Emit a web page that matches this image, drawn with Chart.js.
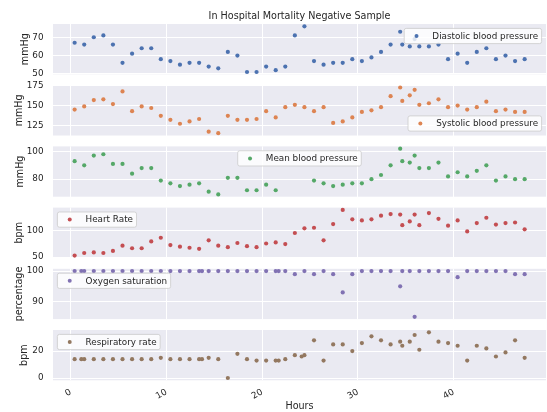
<!DOCTYPE html>
<html>
<head>
<meta charset="utf-8">
<script src="https://cdn.jsdelivr.net/npm/chart.js@4.4.1/dist/chart.umd.min.js"></script>
<style>
  html, body { margin: 0; padding: 0; background: #ffffff; }
  #wrap { position: relative; width: 547px; height: 412px; overflow: hidden; }
  #wrap canvas { position: absolute; left: 0; }
</style>
</head>
<body>
<div id="wrap"></div>
<script>
// ---- vital-sign series (hours since admission) ----
const bpHours = [0.42, 1.42, 2.42, 3.42, 4.42, 5.42, 6.42, 7.42, 8.42, 9.42,
  10.42, 11.42, 12.42, 13.42, 14.42, 15.42, 16.42, 17.42, 18.42, 19.42,
  20.42, 21.42, 22.42, 23.42, 24.42, 25.42, 26.42, 27.42, 28.42, 29.42,
  30.42, 31.42, 32.42, 33.42, 34.42, 34.64, 35.42, 35.93, 36.42, 37.42,
  38.42, 39.42, 40.42, 41.42, 42.42, 43.42, 44.42, 45.42, 46.42, 47.42];

const mapHours = [0.42, 1.42, 2.42, 3.42, 4.42, 5.42, 6.42, 7.42, 8.42, 9.42,
  10.42, 11.42, 12.42, 13.42, 14.42, 15.42, 16.42, 17.42, 18.42, 19.42,
  20.42, 21.42, 25.42, 26.42, 27.42, 28.42, 29.42,
  30.42, 31.42, 32.42, 33.42, 34.42, 34.64, 35.42, 35.93, 36.42, 37.42,
  38.42, 39.42, 40.42, 41.42, 42.42, 43.42, 44.42, 45.42, 46.42, 47.42];

const spo2Hours = [0.42, 1.12, 1.42, 2.42, 3.42, 4.42, 5.42, 6.42, 7.42, 8.42, 9.42,
  10.42, 11.42, 12.42, 13.42, 13.72, 14.42, 15.42, 16.42, 17.42, 18.42, 19.42,
  20.42, 21.42, 21.73, 22.42, 23.42, 24.42, 25.42, 26.42, 27.42, 28.42, 29.42,
  30.42, 31.42, 32.42, 33.42, 34.42, 34.64, 35.42, 35.93, 36.42, 37.42,
  38.42, 39.42, 40.42, 41.42, 42.42, 43.42, 44.42, 45.42, 46.42, 47.42];

const respHours = [0.42, 1.12, 1.42, 2.42, 3.42, 4.42, 5.42, 6.42, 7.42, 8.42, 9.42,
  10.42, 11.42, 12.42, 13.42, 13.72, 14.42, 15.42, 16.42, 17.42, 18.42, 19.42,
  20.42, 21.42, 21.73, 22.42, 23.42, 24.13, 24.42, 25.42, 26.42, 27.42, 28.42, 29.42,
  30.42, 31.42, 32.42, 33.42, 34.42, 34.64, 35.42, 35.93, 36.42, 37.42,
  38.42, 39.42, 40.42, 41.42, 42.42, 43.42, 44.42, 45.42, 46.42, 47.42];

const diastolic = [67, 66, 70, 71, 66, 56, 61, 64, 64, 58,
  57, 55, 56, 56, 54, 53, 62, 60, 51, 51,
  54, 52, 54, 71, 76, 57, 55, 56, 56, 58,
  57, 59, 62, 66, 73, 66, 65, 69, 65, 65,
  66, 58, 61, 56, 62, 64, 58, 60, 57, 58];

const systolic = [145, 149, 157, 158, 152, 168, 143, 149, 147, 137,
  132, 127, 130, 133, 117, 115, 137, 132, 132, 133,
  143, 135, 148, 151, 148, 143, 148, 128, 130, 135,
  142, 144, 148, 162, 173, 156, 163, 170, 151, 153,
  158, 148, 150, 145, 148, 155, 143, 145, 142, 142];

const meanBP = [93, 90, 97, 98, 91, 91, 84, 88, 88, 79,
  77, 75, 76, 77, 71, 69, 81, 81, 72, 72,
  76, 72, 79, 77, 75, 76, 77,
  77, 80, 83, 90, 102, 93, 92, 97, 88, 88,
  92, 82, 85, 82, 86, 90, 79, 82, 80, 80];

const heartRate = [53, 58, 59, 58, 62, 72, 67, 67, 80, 87,
  73, 70, 68, 66, 82, 72, 69, 77, 71, 69,
  76, 78, 75, 96, 105, 106, 82, 113, 140, 122,
  120, 122, 129, 132, 131, 111, 118, 131, 111, 134,
  123, 110, 120, 99, 115, 125, 112, 115, 116, 103];

const spo2 = [100, 100, 100, 100, 100, 100, 100, 100, 100, 100, 100,
  100, 100, 100, 100, 100, 100, 100, 100, 100, 100, 100,
  100, 100, 100, 100, 99, 100, 99, 100, 99, 93, 99,
  100, 100, 100, 100, 95, 100, 100, 85, 100, 100,
  100, 100, 98, 100, 100, 100, 100, 100, 99, 99];

const respRate = [14, 14, 14, 14, 14, 14, 14, 14, 14, 14, 15,
  14, 14, 14, 14, 14, 15, 14, 0, 18, 14, 13,
  13, 13, 13, 14, 17, 16, 17, 28, 13, 25, 25, 20,
  26, 31, 28, 25, 27, 24, 27, 32, 21, 34,
  27, 26, 24, 13, 24, 22, 16, 19, 28, 15];

const seriesLabels = ['Diastolic blood pressure', 'Systolic blood pressure', 'Mean blood pressure',
  'Heart Rate', 'Oxygen saturation', 'Respiratory rate'];
const unitLabels = ['mmHg', 'mmHg', 'mmHg', 'bpm', 'percentage', 'bpm'];
const yTickSteps = [10, 25, 20, 50, 10, 20];
const xTickStep = 10;
const chartTitle = 'In Hospital Mortality Negative Sample';
const xTitle = 'Hours';

// ---- layout & style ----
const PAGE_W = 547, PAGE_H = 412;
const AREA_LEFT = 53, AREA_RIGHT = 546;
const PANEL_TOP0 = 24, PANEL_STEP = 61.2, PANEL_H = 50.3, MARGIN = 8;
const X_MIN = -1.84, X_MAX = 49.65;
const TEXT = '#262626';
const FONT = '"DejaVu Sans", "Liberation Sans", sans-serif';
const palette = ['#4C72B0', '#DD8452', '#55A868', '#C44E52', '#8172B3', '#937860'];

Chart.defaults.font.family = FONT;
Chart.defaults.color = TEXT;

const panels = [
  { x: bpHours,   y: diastolic, loc: 'upper right',  titlePad: 19.5 },
  { x: bpHours,   y: systolic,  loc: 'lower right',  titlePad: 14 },
  { x: mapHours,  y: meanBP,    loc: 'upper center', titlePad: 14.5 },
  { x: bpHours,   y: heartRate, loc: 'upper left',   titlePad: 14 },
  { x: spo2Hours, y: spo2,      loc: 'upper left',   titlePad: 13.5 },
  { x: respHours, y: respRate,  loc: 'upper left',   titlePad: 18.5 }
];

// axis range padded by 5% of the data span
function paddedRange(vals) {
  const lo = Math.min(...vals), hi = Math.max(...vals);
  const m = (hi - lo) * 0.05;
  return [lo - m, hi + m];
}

// grey axes face behind each panel
const panelBackground = {
  id: 'panelBackground',
  beforeDraw(chart) {
    const { ctx, chartArea: a } = chart;
    ctx.save();
    ctx.fillStyle = '#EAEAF2';
    ctx.fillRect(a.left, a.top, a.right - a.left, a.bottom - a.top);
    ctx.restore();
  }
};

// legend box drawn inside the plotting area
const insetLegend = {
  id: 'insetLegend',
  afterDatasetsDraw(chart, args, opts) {
    const { ctx, chartArea: a } = chart;
    const ds = chart.data.datasets[0];
    const fs = 8.8;
    ctx.save();
    ctx.font = fs + 'px ' + FONT;
    const tw = ctx.measureText(ds.label).width;
    const bp = 0.4 * fs, hl = 2 * fs, hp = 0.8 * fs, ax = 0.5 * fs;
    const w = bp + hl + hp + tw + bp, h = 15.2;
    let x, y;
    if (opts.loc.includes('right')) x = a.right - ax - w;
    else if (opts.loc.includes('left')) x = a.left + ax;
    else x = (a.left + a.right) / 2 - w / 2;
    y = opts.loc.startsWith('upper') ? a.top + ax : a.bottom - ax - h;
    const r = 2;
    ctx.beginPath();
    ctx.moveTo(x + r, y);
    ctx.lineTo(x + w - r, y);
    ctx.arcTo(x + w, y, x + w, y + r, r);
    ctx.lineTo(x + w, y + h - r);
    ctx.arcTo(x + w, y + h, x + w - r, y + h, r);
    ctx.lineTo(x + r, y + h);
    ctx.arcTo(x, y + h, x, y + h - r, r);
    ctx.lineTo(x, y + r);
    ctx.arcTo(x, y, x + r, y, r);
    ctx.closePath();
    ctx.fillStyle = 'rgba(255,255,255,0.8)';
    ctx.fill();
    ctx.strokeStyle = 'rgba(204,204,204,0.8)';
    ctx.lineWidth = 1;
    ctx.stroke();
    ctx.beginPath();
    ctx.arc(x + bp + hl / 2, y + h / 2, 2, 0, Math.PI * 2);
    ctx.fillStyle = ds.backgroundColor;
    ctx.fill();
    ctx.fillStyle = TEXT;
    ctx.textBaseline = 'middle';
    ctx.textAlign = 'left';
    ctx.fillText(ds.label, x + bp + hl + hp, y + h / 2 + 0.5);
    ctx.restore();
  }
};

const wrap = document.getElementById('wrap');

panels.forEach((p, i) => {
  const first = i === 0, last = i === panels.length - 1;
  const areaTop = PANEL_TOP0 + PANEL_STEP * i;
  const areaBottom = areaTop + PANEL_H;
  const cTop = first ? 0 : Math.floor(areaTop - MARGIN);
  const cBottom = last ? PAGE_H : Math.ceil(areaBottom + MARGIN);

  const canvas = document.createElement('canvas');
  canvas.width = PAGE_W;
  canvas.height = cBottom - cTop;
  canvas.style.width = PAGE_W + 'px';
  canvas.style.height = (cBottom - cTop) + 'px';
  canvas.style.top = cTop + 'px';
  wrap.appendChild(canvas);

  const xAxisH = last ? PAGE_H - areaBottom : 0;
  const [yMin, yMax] = paddedRange(p.y);

  new Chart(canvas, {
    type: 'scatter',
    data: {
      datasets: [{
        label: seriesLabels[i],
        data: p.x.map((h, j) => ({ x: h, y: p.y[j] })),
        backgroundColor: palette[i],
        pointBackgroundColor: palette[i],
        pointBorderWidth: 0,
        pointRadius: 2.1,
        pointHoverRadius: 2.1,
        showLine: false,
        clip: false
      }]
    },
    options: {
      responsive: false,
      animation: false,
      events: [],
      layout: {
        autoPadding: false,
        padding: {
          left: 0,
          right: PAGE_W - AREA_RIGHT,
          top: first ? 0 : areaTop - cTop,
          bottom: last ? 0 : cBottom - areaBottom
        }
      },
      plugins: {
        legend: { display: false },
        tooltip: { enabled: false },
        title: {
          display: first,
          text: chartTitle,
          fullSize: false,
          color: TEXT,
          font: { size: 9.6, weight: 'normal', family: FONT },
          padding: { top: 10.6, bottom: PANEL_TOP0 - 10.6 - 9.6 * 1.2 }
        },
        insetLegend: { loc: p.loc }
      },
      scales: {
        x: {
          type: 'linear',
          min: X_MIN,
          max: X_MAX,
          afterFit: s => { s.height = xAxisH; },
          border: { display: false },
          grid: { color: '#ffffff', lineWidth: 1, drawTicks: false },
          ticks: {
            display: last,
            stepSize: xTickStep,
            includeBounds: false,
            minRotation: 30,
            maxRotation: 30,
            padding: 6.5,
            color: TEXT,
            font: { size: 8.8, family: FONT }
          },
          title: {
            display: last,
            text: xTitle,
            color: TEXT,
            font: { size: 9.6, family: FONT },
            padding: 0
          }
        },
        y: {
          type: 'linear',
          min: yMin,
          max: yMax,
          afterFit: s => { s.width = AREA_LEFT; },
          border: { display: false },
          // invisible tick marks keep the labels clear of the axes face
          grid: { color: '#ffffff', lineWidth: 1, drawTicks: true, tickLength: 9.5, tickColor: 'rgba(0,0,0,0)' },
          ticks: {
            stepSize: yTickSteps[i],
            includeBounds: false,
            padding: 0,
            color: TEXT,
            font: { size: 8.8, family: FONT }
          },
          title: {
            display: true,
            text: unitLabels[i],
            color: TEXT,
            font: { size: 9.6, family: FONT },
            padding: { top: p.titlePad, bottom: 0 }
          }
        }
      }
    },
    plugins: [panelBackground, insetLegend]
  });
});
</script>
</body>
</html>
